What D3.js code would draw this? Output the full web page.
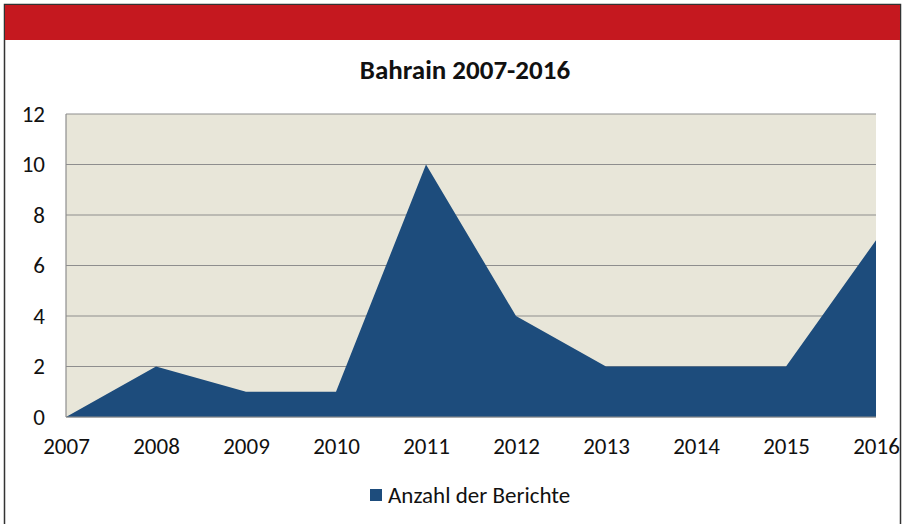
<!DOCTYPE html>
<html lang="de">
<head>
<meta charset="UTF-8">
<title>Bahrain 2007-2016</title>
<script src="https://d3js.org/d3.v7.min.js"></script>
<style>
    body { margin: 0; background: #fff; }
    text { font-family: Carlito, Lato, "Open Sans", sans-serif; fill: #111; }
</style>
</head>
<body>
<div id="chart"></div>
<script>
    // data
    const years = ["2007", "2008", "2009", "2010", "2011", "2012", "2013", "2014", "2015", "2016"];
    const reports = [0, 2, 1, 1, 10, 4, 2, 2, 2, 7];
    const yTicks = [0, 2, 4, 6, 8, 10, 12];
    const seriesName = "Anzahl der Berichte";
    const title = "Bahrain 2007-2016";

    const W = 904, H = 524;
    const margin = {top: 114, right: 28, bottom: 107, left: 66};
    const width = W - margin.left - margin.right,
          height = H - margin.top - margin.bottom;

    const svg = d3.select("#chart").append("svg")
        .attr("width", W).attr("height", H);

    // frame and red header band
    svg.append("rect").attr("x", 4.5).attr("y", 4.5).attr("width", 896).attr("height", 530)
        .attr("fill", "#fff").attr("stroke", "#333").attr("stroke-width", 1.5);
    svg.append("rect").attr("x", 5).attr("y", 5).attr("width", 895).attr("height", 35)
        .attr("fill", "#C5181F");

    svg.append("text")
        .attr("x", 465).attr("y", 79)
        .attr("text-anchor", "middle")
        .style("font-size", "27px").style("font-weight", "bold")
        .text(title);

    const g = svg.append("g").attr("transform", `translate(${margin.left},${margin.top})`);

    const x = d3.scalePoint().domain(years).range([0, width]);
    const y = d3.scaleLinear().domain([0, 12]).range([height, 0]);

    g.append("rect").attr("width", width).attr("height", height).attr("fill", "#E8E6D9");

    // gridlines
    g.selectAll(".grid").data(yTicks).join("line")
        .attr("x1", 0).attr("x2", width)
        .attr("y1", d => y(d)).attr("y2", d => y(d))
        .attr("stroke", "#8E8E8E").attr("stroke-width", 1.2);

    // area
    const area = d3.area()
        .x((d, i) => x(years[i]))
        .y0(y(0))
        .y1(d => y(d));
    g.append("path").datum(reports)
        .attr("fill", "#1D4C7C")
        .attr("d", area);

    // axis lines
    g.append("line").attr("x1", 0).attr("x2", 0).attr("y1", 0).attr("y2", height)
        .attr("stroke", "#8E8E8E").attr("stroke-width", 1.2);
    g.append("line").attr("x1", 0).attr("x2", width).attr("y1", height).attr("y2", height)
        .attr("stroke", "#8E8E8E").attr("stroke-width", 1.2);

    // y axis labels
    const yAxis = g.append("g").call(d3.axisLeft(y).tickValues(yTicks).tickSize(0).tickPadding(21));
    yAxis.select(".domain").remove();
    yAxis.selectAll("text").style("font-size", "23px").attr("fill", "#111");

    // x axis labels
    const xAxis = g.append("g").attr("transform", `translate(0,${height})`)
        .call(d3.axisBottom(x).tickSize(0).tickPadding(21));
    xAxis.select(".domain").remove();
    xAxis.selectAll("text").style("font-size", "23px").attr("fill", "#111");

    // legend
    const legend = svg.append("g").attr("transform", "translate(370,489)");
    legend.append("rect").attr("width", 12).attr("height", 12).attr("fill", "#1D4C7C");
    legend.append("text").attr("x", 18).attr("y", 14)
        .style("font-size", "23px").text(seriesName);
</script>
</body>
</html>
